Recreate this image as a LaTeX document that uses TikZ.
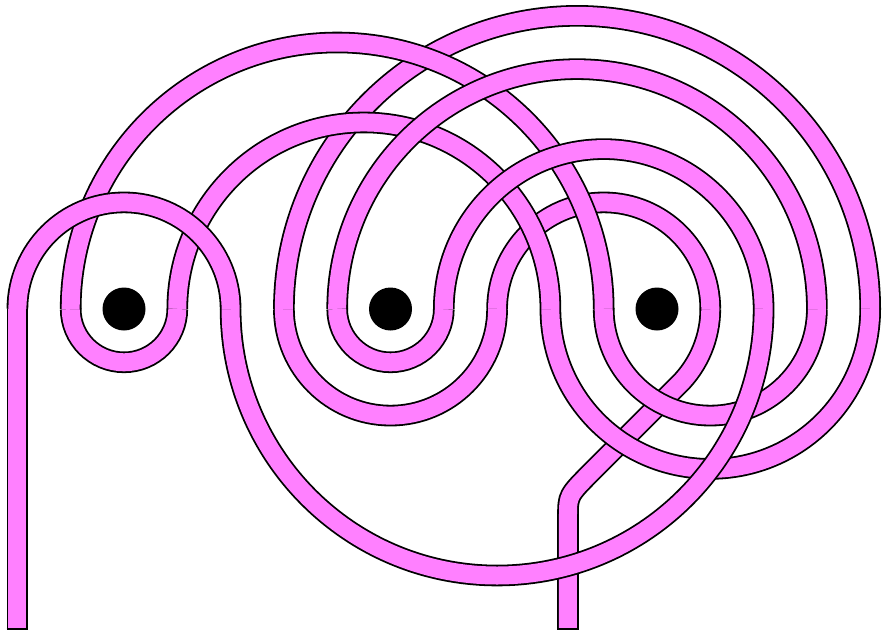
\documentclass[tikz,border=0pt]{standalone}
\usepackage{tikz}
\definecolor{tubepink}{RGB}{255,128,255}

\begin{document}
\begin{tikzpicture}[x=53.3pt, y=53.3pt,
  tube/.style={draw=black, line width=1.8pt, double=tubepink, double distance=18pt},
  tubeend/.style={draw=black, line width=1.8pt},
  puncture/.style={circle, fill=black, inner sep=0pt, minimum size=43pt}]
  \useasboundingbox (-0.3265,-6.0413) rectangle (16.2214,5.7974);
  % points where the strand meets the middle line
  \foreach \k in {0,...,16} \coordinate (p\k) at (\k,0);
  \coordinate (e1) at (0,-6);
  \coordinate (bend) at (10.33,-3.498);
  \coordinate (e2) at (10.33,-6);
  % strand, drawn from its far end so that earlier pieces lie on top
  \draw[tube] (p13) arc[start angle=0, end angle=-45, radius=2]
    -- ([shift={(0.45,0.45)}]bend) .. controls (bend) .. ([shift={(0,-0.4)}]bend) -- (e2);
  \draw[tube] (p9) arc[start angle=180, end angle=0, radius=2];
  \draw[tube] (p5) arc[start angle=180, end angle=360, radius=2];
  \draw[tube] (p5) arc[start angle=180, end angle=0, radius=5.5];
  \draw[tube] (p10) arc[start angle=180, end angle=360, radius=3];
  \draw[tube] (p3) arc[start angle=180, end angle=0, radius=3.5];
  \draw[tube] (p1) arc[start angle=180, end angle=360, radius=1];
  \draw[tube] (p1) arc[start angle=180, end angle=0, radius=5];
  \draw[tube] (p11) arc[start angle=180, end angle=360, radius=2];
  \draw[tube] (p6) arc[start angle=180, end angle=0, radius=4.5];
  \draw[tube] (p6) arc[start angle=180, end angle=360, radius=1];
  \draw[tube] (p8) arc[start angle=180, end angle=0, radius=3];
  \draw[tube] (p4) arc[start angle=180, end angle=360, radius=5];
  \draw[tube] (p0) arc[start angle=180, end angle=0, radius=2];
  \draw[tube] (e1) -- (p0);
  \draw[tubeend] ([xshift=-10.8pt]e1) -- ([xshift=10.8pt]e1);
  \draw[tubeend] ([xshift=-10.8pt]e2) -- ([xshift=10.8pt]e2);
  % punctures
  \foreach \k/\n in {2/1,7/2,12/3} \node[puncture] (hole\n) at (p\k) {};
\end{tikzpicture}
\end{document}
